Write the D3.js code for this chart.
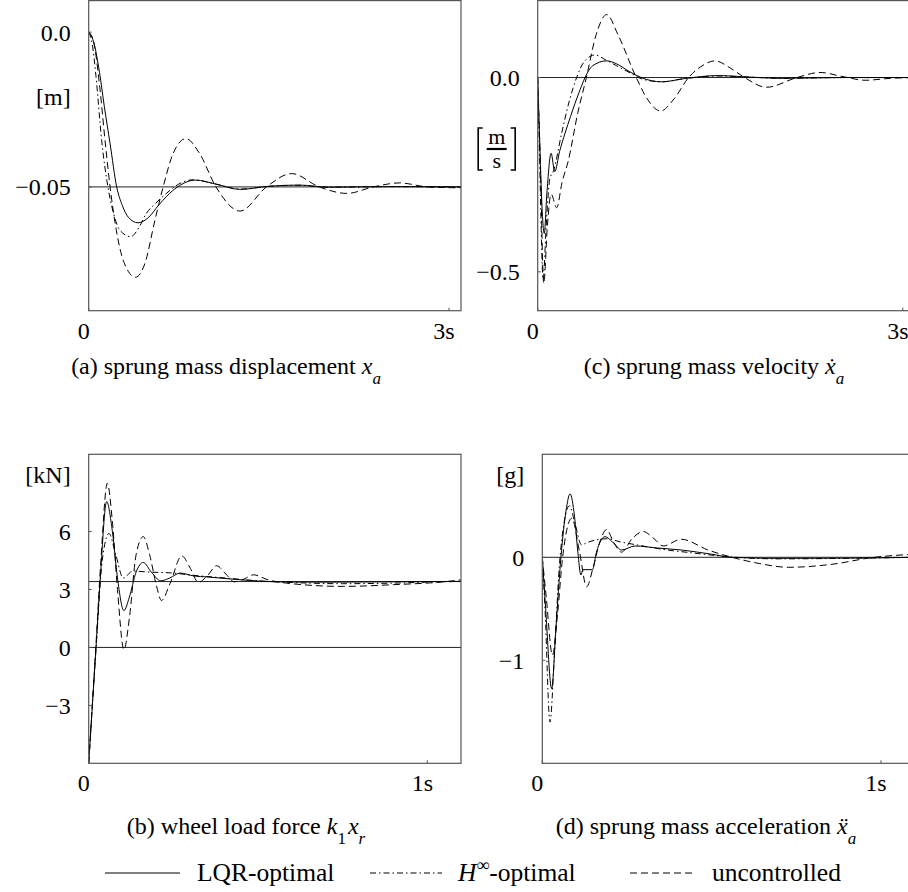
<!DOCTYPE html>
<html>
  <head>
    <meta charset="utf-8">
    <title>Suspension responses</title>
    <script src="https://d3js.org/d3.v7.min.js"></script>
    <style>
      body { margin: 0; background: #fff; }
      .frame { fill: none; stroke: #555; stroke-width: 1.2; }
      .ref { stroke: #222; stroke-width: 1; }
      .tick { stroke: #555; stroke-width: 1; }
      .plot { fill: none; stroke: #000; stroke-width: 1; }
    </style>
  </head>
  <body>
    <svg id="chart" width="908" height="892"></svg>
    <script>
      // (a) sprung mass displacement [m] vs time [s]
      var dispLQR = [[0,0],[0.04,-0.003],[0.09,-0.013],[0.13,-0.024],[0.178,-0.036],[0.233,-0.05],[0.28,-0.056],[0.33,-0.0598],[0.41,-0.0616],[0.5,-0.0598],[0.58,-0.056],[0.65,-0.053],[0.74,-0.05],[0.89,-0.0478],[1.05,-0.049],[1.26,-0.0508],[1.5,-0.0498],[1.75,-0.0494],[2.0,-0.0501],[2.5,-0.0499],[3.1,-0.05]];
      var dispHinf = [[0,0],[0.03,-0.004],[0.06,-0.014],[0.108,-0.035],[0.16,-0.05],[0.21,-0.059],[0.26,-0.064],[0.35,-0.0661],[0.42,-0.063],[0.48,-0.0586],[0.56,-0.0552],[0.65,-0.052],[0.72,-0.0498],[0.87,-0.0477],[1.05,-0.049],[1.26,-0.0507],[1.5,-0.0498],[1.75,-0.0495],[2.0,-0.0501],[2.5,-0.0499],[3.1,-0.05]];
      var dispUnc = [[0,0],[0.04,-0.003],[0.09,-0.017],[0.136,-0.035],[0.178,-0.05],[0.23,-0.064],[0.29,-0.074],[0.39,-0.0792],[0.47,-0.0745],[0.55,-0.061],[0.62,-0.05],[0.7,-0.0395],[0.81,-0.0344],[0.92,-0.039],[1.06,-0.05],[1.26,-0.0578],[1.48,-0.05],[1.69,-0.0457],[1.92,-0.05],[2.15,-0.0521],[2.37,-0.05],[2.59,-0.0487],[2.82,-0.05],[3.1,-0.0503]];
      // (c) sprung mass velocity [m/s]
      var velLQR = [[0,0],[0.015,-0.15],[0.035,-0.33],[0.054,-0.401],[0.075,-0.3],[0.11,-0.195],[0.14,-0.242],[0.18,-0.19],[0.225,-0.143],[0.27,-0.1],[0.307,-0.066],[0.35,-0.03],[0.389,0],[0.45,0.03],[0.567,0.043],[0.65,0.035],[0.75,0.016],[0.85,0],[1.02,-0.011],[1.2,-0.003],[1.48,0.005],[1.75,0.001],[2.0,-0.002],[2.5,0],[3.1,0]];
      var velHinf = [[0,0],[0.015,-0.2],[0.045,-0.52],[0.07,-0.38],[0.1,-0.26],[0.13,-0.24],[0.197,-0.143],[0.26,-0.06],[0.32,0],[0.38,0.04],[0.471,0.058],[0.56,0.045],[0.65,0.03],[0.76,0.012],[0.87,-0.005],[1.02,-0.011],[1.2,-0.003],[1.48,0.004],[1.75,0.001],[2.0,-0.002],[2.5,0],[3.1,0]];
      var velUnc = [[0,0],[0.02,-0.2],[0.05,-0.53],[0.08,-0.38],[0.11,-0.3],[0.156,-0.335],[0.2,-0.27],[0.25,-0.216],[0.33,-0.09],[0.4,0],[0.48,0.11],[0.567,0.162],[0.66,0.11],[0.81,0],[0.9,-0.055],[1.01,-0.086],[1.12,-0.055],[1.24,0],[1.35,0.03],[1.457,0.043],[1.58,0.025],[1.7,0],[1.88,-0.025],[2.13,0],[2.32,0.013],[2.5,0.003],[2.69,-0.007],[2.9,-0.002],[3.1,0]];
      // (b) wheel load force [kN]
      var forceLQR = [[0,-6],[0.0216,0],[0.035,3.8],[0.053,7.55],[0.07,6],[0.085,3.6],[0.104,1.91],[0.12,2.6],[0.14,3.9],[0.161,4.4],[0.185,3.9],[0.213,3.45],[0.24,3.6],[0.27,3.85],[0.31,3.7],[0.35,3.65],[0.45,3.5],[0.55,3.4],[0.7,3.38],[0.9,3.4],[1.1,3.42]];
      var forceHinf = [[0,-6],[0.022,0],[0.04,4.5],[0.06,5.9],[0.08,4.8],[0.102,3.59],[0.13,3.95],[0.18,3.9],[0.25,3.85],[0.3,3.75],[0.4,3.6],[0.5,3.45],[0.6,3.36],[0.75,3.3],[0.9,3.33],[1.0,3.38],[1.1,3.42]];
      var forceUnc = [[0,-6],[0.021,0],[0.036,4.5],[0.055,8.5],[0.07,6.5],[0.085,3],[0.104,-0.12],[0.12,1.5],[0.14,4.8],[0.161,5.74],[0.18,4.8],[0.2,3.2],[0.215,2.43],[0.24,3.3],[0.275,4.74],[0.3,4.1],[0.324,3.37],[0.35,3.7],[0.378,4.23],[0.405,3.8],[0.43,3.4],[0.46,3.55],[0.486,3.76],[0.53,3.5],[0.6,3.3],[0.752,3.16],[0.9,3.25],[1.05,3.4],[1.1,3.5]];
      // (d) sprung mass acceleration [g]
      var accLQR = [[0,0],[0.01,-0.5],[0.0277,-1.276],[0.04,-0.7],[0.055,0],[0.07,0.45],[0.082,0.616],[0.095,0.4],[0.105,0.05],[0.114,-0.172],[0.12,-0.12],[0.148,-0.12],[0.16,0.05],[0.185,0.2],[0.21,0.14],[0.234,0.071],[0.274,0.11],[0.34,0.09],[0.41,0.071],[0.5,0.03],[0.56,0],[0.7,-0.01],[0.9,-0.008],[1.1,0]];
      var accHinf = [[0,0],[0.008,-0.5],[0.0227,-1.6],[0.035,-1.0],[0.05,-0.1],[0.065,0.35],[0.08,0.5],[0.095,0.35],[0.116,0.12],[0.13,0.14],[0.16,0.17],[0.19,0.18],[0.23,0.15],[0.28,0.12],[0.35,0.08],[0.45,0.04],[0.55,0.005],[0.7,-0.015],[0.9,-0.01],[1.1,0]];
      var accUnc = [[0,0],[0.012,-0.4],[0.03,-0.95],[0.045,-0.55],[0.06,0],[0.087,0.38],[0.11,0.05],[0.131,-0.286],[0.15,-0.1],[0.17,0.15],[0.19,0.27],[0.21,0.15],[0.234,0.05],[0.265,0.18],[0.298,0.25],[0.33,0.18],[0.357,0.11],[0.41,0.175],[0.49,0.07],[0.56,0],[0.64,-0.06],[0.726,-0.097],[0.85,-0.07],[0.98,0],[1.1,0.03]];

      // tick values and labels
      var dispYTicks = [0, -0.05], dispYLabels = ["0.0", "\u22120.05"];
      var velYTicks = [0, -0.5], velYLabels = ["0.0", "\u22120.5"];
      var forceYTicks = [6, 3, 0, -3], forceYLabels = ["6", "3", "0", "\u22123"];
      var accYTicks = [0, -1], accYLabels = ["0", "\u22121"];
      var slowXTicks = [0, 3], slowXLabels = ["0", "3s"];
      var fastXTicks = [0, 1], fastXLabels = ["0", "1s"];
      var seriesNames = ["LQR-optimal", "-optimal", "uncontrolled"];
      var dashes = [null, "6,3,1.5,3", "7,4"];

      var svg = d3.select("#chart");
      var fs = 24;
      var font = "Liberation Serif";

      var panels = [
        { id: "a", box: [88.7, 0.6, 461, 310.7], x: [0, 3.1], y: [-0.09, 0.0102], series: [dispLQR, dispHinf, dispUnc],
          refs: [-0.05], yt: dispYTicks, yl: dispYLabels, xt: slowXTicks, xl: slowXLabels, unit: "[m]", unitY: 97 },
        { id: "c", box: [537.7, 0.6, 912, 310.7], x: [0, (912 - 537.7) / 121.7], y: [-0.6, 0.198], series: [velLQR, velHinf, velUnc],
          refs: [0], yt: velYTicks, yl: velYLabels, xt: slowXTicks, xl: slowXLabels, unit: null },
        { id: "b", box: [88.7, 454.3, 461, 763.3], x: [0, 1.0995], y: [-6, 10], series: [forceLQR, forceHinf, forceUnc],
          refs: [0, 3.41], yt: forceYTicks, yl: forceYLabels, xt: fastXTicks, xl: fastXLabels, unit: "[kN]", unitY: 475 },
        { id: "d", box: [542.3, 454.3, 915, 763.3], x: [0, (915 - 542.3) / 338.7], y: [-2, 1], series: [accLQR, accHinf, accUnc],
          refs: [0], yt: accYTicks, yl: accYLabels, xt: fastXTicks, xl: fastXLabels, unit: "[g]", unitY: 475 }
      ];

      panels.forEach(function(p) {
        var x = d3.scaleLinear().domain(p.x).range([p.box[0], p.box[2]]);
        var y = d3.scaleLinear().domain(p.y).range([p.box[3], p.box[1]]);
        var g = svg.append("g").attr("id", "panel-" + p.id);
        g.append("clipPath").attr("id", "clip-" + p.id)
          .append("rect")
            .attr("x", p.box[0]).attr("y", p.box[1])
            .attr("width", p.box[2] - p.box[0]).attr("height", p.box[3] - p.box[1]);
        // reference lines
        g.selectAll(".ref").data(p.refs).enter()
          .append("line")
            .classed("ref", true)
            .attr("x1", p.box[0]).attr("x2", p.box[2])
            .attr("y1", function(d) { return y(d); }).attr("y2", function(d) { return y(d); });
        // curves
        var line = d3.line()
          .x(function(d) { return x(d[0]); })
          .y(function(d) { return y(d[1]); })
          .curve(d3.curveMonotoneX);
        g.append("g").attr("clip-path", "url(#clip-" + p.id + ")")
          .selectAll("path").data(p.series).enter()
          .append("path")
            .classed("plot", true)
            .attr("stroke-dasharray", function(d, i) { return dashes[i]; })
            .attr("d", line);
        // frame
        g.append("rect").classed("frame", true)
          .attr("x", p.box[0]).attr("y", p.box[1])
          .attr("width", p.box[2] - p.box[0]).attr("height", p.box[3] - p.box[1]);
        // small inward ticks
        p.yt.forEach(function(v) {
          g.append("line").classed("tick", true)
            .attr("x1", p.box[0]).attr("x2", p.box[0] + 3)
            .attr("y1", y(v)).attr("y2", y(v));
        });
        p.xt.forEach(function(v) {
          g.append("line").classed("tick", true)
            .attr("x1", x(v)).attr("x2", x(v))
            .attr("y1", p.box[3]).attr("y2", p.box[3] - 3);
        });
        // tick labels
        g.selectAll(".ylab").data(p.yt).enter()
          .append("text")
            .attr("x", p.box[0] - 18)
            .attr("y", function(d) { return y(d); })
            .attr("dy", "0.35em")
            .attr("text-anchor", "end")
            .attr("font-size", fs)
            .text(function(d, i) { return p.yl[i]; });
        g.selectAll(".xlab").data(p.xt).enter()
          .append("text")
            .attr("x", function(d) { return x(d) - 5; })
            .attr("y", p.box[3] + 28)
            .attr("text-anchor", "middle")
            .attr("font-size", fs)
            .text(function(d, i) { return p.xl[i]; });
        if (p.unit) {
          g.append("text")
            .attr("x", p.box[0] - 18)
            .attr("y", p.unitY)
            .attr("dy", "0.35em")
            .attr("text-anchor", "end")
            .attr("font-size", fs)
            .text(p.unit);
        }
      });

      // [m/s] fraction unit for panel (c), brackets drawn as strokes
      var fr = svg.append("g").attr("transform", "translate(496.7,149)");
      fr.append("path").attr("fill", "none").attr("stroke", "#000").attr("stroke-width", 1.6)
        .attr("d", "M-14,-21H-18.5V21H-14 M14,-21H18.5V21H14");
      fr.append("text").attr("x", 0).attr("y", -5).attr("text-anchor", "middle")
        .attr("font-size", 22).text("m");
      fr.append("line").attr("x1", -10).attr("x2", 10).attr("y1", 0).attr("y2", 0)
        .attr("stroke", "#000").attr("stroke-width", 2.2);
      fr.append("text").attr("x", 0).attr("y", 19).attr("text-anchor", "middle")
        .attr("font-size", 22).text("s");

      // captions
      function caption(cx, cy, lead, sym, sub) {
        var t = svg.append("text").attr("x", cx).attr("y", cy)
          .attr("text-anchor", "middle").attr("font-size", fs);
        t.append("tspan").text(lead);
        t.append("tspan").attr("font-style", "italic").text(sym);
        t.append("tspan").attr("baseline-shift", "sub").attr("font-size", 17)
          .attr("font-style", "italic").text(sub);
      }
      caption(226, 374, "(a) sprung mass displacement ", "x", "a");
      caption(714, 374, "(c) sprung mass velocity ", "x\u0307", "a");
      var cb = svg.append("text").attr("x", 246).attr("y", 834)
        .attr("text-anchor", "middle").attr("font-size", fs);
      cb.append("tspan").text("(b) wheel load force ");
      cb.append("tspan").attr("font-style", "italic").text("k");
      cb.append("tspan").attr("baseline-shift", "sub").attr("font-size", 17).text("1");
      cb.append("tspan").attr("font-style", "italic").attr("dx", 2).text("x");
      cb.append("tspan").attr("baseline-shift", "sub").attr("font-size", 17).attr("font-style", "italic").text("r");
      caption(706, 834, "(d) sprung mass acceleration ", "x\u0308", "a");

      // legend
      var legendX = [[105, 180, 197], [370, 442, 458], [630, 696, 712]];
      var lg = svg.append("g").attr("id", "legend");
      seriesNames.forEach(function(name, i) {
        lg.append("line").classed("plot", true)
          .attr("x1", legendX[i][0]).attr("x2", legendX[i][1])
          .attr("y1", 873).attr("y2", 873)
          .attr("stroke-width", 1.3)
          .attr("stroke-dasharray", dashes[i]);
        var t = lg.append("text").attr("x", legendX[i][2]).attr("y", 881).attr("font-size", 25.5);
        if (i == 1) {
          t.append("tspan").attr("font-style", "italic").text("H");
          t.append("tspan").attr("baseline-shift", "super").attr("font-size", 18).text("\u221e");
        }
        t.append("tspan").text(name);
      });

      // serif face on every text and tspan
      svg.selectAll("text, tspan").attr("font-family", font);
    </script>
  </body>
</html>
